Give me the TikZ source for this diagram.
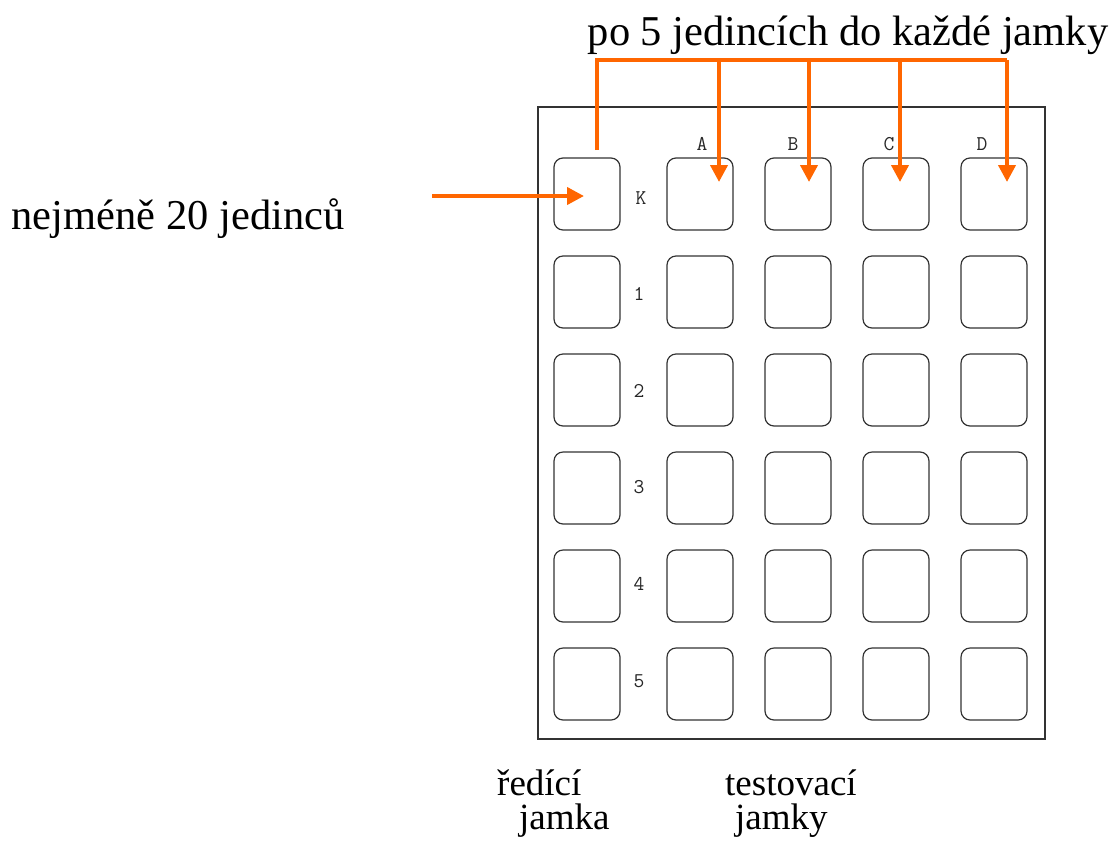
\documentclass[tikz,border=0pt]{standalone}
\usepackage{fontspec}
\setmainfont{Liberation Serif}
\usetikzlibrary{arrows.meta}
\definecolor{orng}{HTML}{FF6600}
\definecolor{wellc}{HTML}{333333}
\begin{document}
\begin{tikzpicture}[x=1pt,y=-1pt,
  well/.style={draw=wellc,line width=1.2pt,rounded corners=9pt,minimum width=66pt,minimum height=72pt,inner sep=0pt},
  plate/.style={draw=wellc,line width=1.2pt},
  glabel/.style={font=\ttfamily\fontsize{21}{21}\selectfont,inner sep=0pt,text=black!85},
  bigtext/.style={font=\fontsize{42.5}{42.5}\selectfont,inner sep=0pt,anchor=base},
  smalltext/.style={font=\fontsize{37}{37}\selectfont,inner sep=0pt,anchor=base west},
  feed/.style={draw=orng,line width=4pt,-{Triangle[length=17pt,width=17pt]}},
  feedline/.style={draw=orng,line width=4pt}]
\useasboundingbox (0,0) rectangle (1116,847);
% plate
\node[plate,minimum width=507pt,minimum height=632pt,inner sep=0pt] (plate) at (791.5,423) {};
% wells
\foreach \c/\x in {K/587,A/700,B/798,C/896,D/994}{
  \foreach \r/\y in {0/194,1/292,2/390,3/488,4/586,5/684}{
    \node[well] (w\c\r) at (\x,\y) {};
  }
}
% labels
\node[glabel] (lK) at (641,198) {K};
\foreach \r/\y in {1/294,2/391,3/487,4/584,5/681}{
  \node[glabel] (l\r) at (639,\y) {\r};
}
\node[glabel] (lA) at (702,144) {A};
\node[glabel] (lB) at (793,144) {B};
\node[glabel] (lC) at (889,144) {C};
\node[glabel] (lD) at (982,144) {D};
% texts
\node[bigtext] (top) at (848,45) {po 5 jedincích do každé jamky};
\node[bigtext] (left) at (178,229) {nejméně 20 jedinců};
\node[smalltext] (red1) at (497,795) {ředící};
\node[smalltext] (red2) at (519,829) {jamka};
\node[smalltext] (tes1) at (725,795) {testovací};
\node[smalltext] (tes2) at (735,829) {jamky};
% arrow points
\coordinate (src) at (432,196);
\coordinate (inK) at (584,196);
\coordinate (upK) at (597,150);
\coordinate (cornL) at (597,60);
\coordinate (cornR) at (1007,60);
\coordinate (tA) at (719,60);
\coordinate (tB) at (809,60);
\coordinate (tC) at (900,60);
\coordinate (inA) at (719,182);
\coordinate (inB) at (809,182);
\coordinate (inC) at (900,182);
\coordinate (inD) at (1007,182);
% arrows
\draw[feed] (src) -- (inK);
\draw[feedline] (upK) -- (cornL) -- (cornR);
\draw[feed] (cornR) -- (inD);
\draw[feed] (tA) -- (inA);
\draw[feed] (tB) -- (inB);
\draw[feed] (tC) -- (inC);
\end{tikzpicture}
\end{document}
